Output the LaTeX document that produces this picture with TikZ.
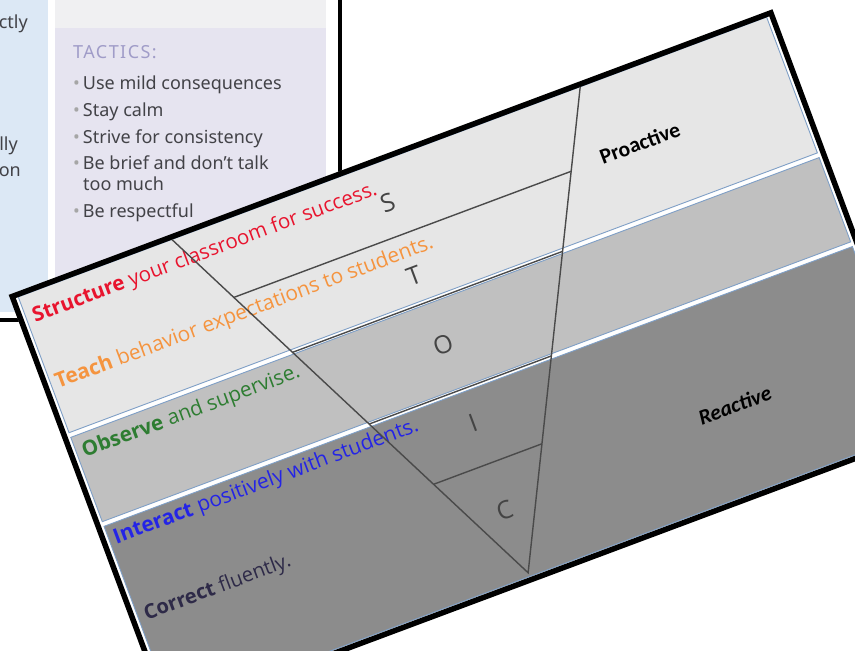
\documentclass[tikz,border=0pt]{standalone}
\usepackage{fontspec}
\setmainfont{Open Sans}
\newfontfamily\carlito{Carlito}
\newfontfamily\notos{Noto Sans}
\usetikzlibrary{calc}
\definecolor{panelblue}{HTML}{DCE8F5}
\definecolor{topgray}{HTML}{F0F0F2}
\definecolor{lavender}{HTML}{E6E4F0}
\definecolor{tacticscol}{HTML}{A09CC8}
\definecolor{bgtext}{HTML}{424247}
\definecolor{lettercol}{HTML}{444444}
\definecolor{rowA}{HTML}{E6E6E6}
\definecolor{rowB}{HTML}{C0C0C0}
\definecolor{rowC}{HTML}{8C8C8C}
\definecolor{rowline}{HTML}{7F9FC6}
\definecolor{triline}{HTML}{4A4A4A}
\definecolor{cred}{HTML}{E8142E}
\definecolor{corange}{HTML}{F5943F}
\definecolor{cgreen}{HTML}{2E7D32}
\definecolor{cblue}{HTML}{2424E6}
\definecolor{cdark}{HTML}{2E2A48}
\newcommand\fitto[2]{\resizebox{#1pt}{!}{#2}}
\tikzset{
  bgtxt/.style={font=\notos\fontsize{18}{18}\selectfont, text=bgtext, inner sep=0pt},
  rowbox/.style={draw=rowline, line width=0.9pt},
  rowtxt/.style={anchor=base west, inner sep=0pt, font=\fontsize{20}{20}\selectfont},
  letter/.style={inner sep=0pt, font=\fontsize{25}{25}\selectfont, text=lettercol},
  sidetxt/.style={anchor=base west, inner sep=0pt, font=\carlito\bfseries\fontsize{20}{20}\selectfont},
  triedge/.style={draw=triline, line width=1.4pt}
}
\begin{document}
\begin{tikzpicture}[x=1pt,y=-1pt]
\useasboundingbox (0,0) rectangle (855,651);
\fill[white] (0,0) rectangle (855,651);
% background screenshot
\fill[panelblue] (0,0) rectangle (48,312);
\fill[topgray] (55,0) rectangle (326,28);
\fill[lavender] (55,28) rectangle (326,314);
\draw[line width=3.5pt] (340,-3) -- (340,320) -- (-3,320);
\node[bgtxt, anchor=base east] (f1) at (28,28) {ctly};
\node[bgtxt, anchor=base east] (f2) at (18,150) {lly};
\node[bgtxt, anchor=base east] (f3) at (21,176) {on};
\node[anchor=base west, inner sep=0pt, text=tacticscol, font=\notos\fontsize{18}{18}\selectfont\addfontfeature{LetterSpace=8}] (tac) at (73,58) {TACTICS:};
\node[bgtxt, anchor=base west] (b1) at (73,89) {{\color{gray!70}\textbullet}\,Use mild consequences};
\node[bgtxt, anchor=base west] (b2) at (73,116) {{\color{gray!70}\textbullet}\,Stay calm};
\node[bgtxt, anchor=base west] (b3) at (73,143) {{\color{gray!70}\textbullet}\,Strive for consistency};
\node[bgtxt, anchor=base west] (b4) at (73,169) {{\color{gray!70}\textbullet}\,Be brief and don’t talk};
\node[bgtxt, anchor=base west] (b5) at (83,190) {too much};
\node[bgtxt, anchor=base west] (b6) at (73,217) {{\color{gray!70}\textbullet}\,Be respectful};
% the card
\begin{scope}[shift={(9,295)}, rotate=20.5, transform shape]
  \fill[white] (0,0) rectangle (815,452);
  \draw[rowbox, fill=rowA] (8,5) rectangle (807,150);
  \draw[rowbox, fill=rowB] (8,155) rectangle (807,245);
  \draw[rowbox, fill=rowC] (8,250) rectangle (807,446);
  \draw[line width=5.5pt] (2.5,2.5) rectangle (812.5,449.5);
  % texts
  \node[rowtxt, text=cred] (ts) at (15,35) {\fitto{366}{\textbf{Structure} your classroom for success.}};
  \node[rowtxt, text=corange] (tt) at (13,105) {\fitto{402}{\textbf{Teach} behavior expectations to students.}};
  \node[rowtxt, text=cgreen] (to) at (14,179) {\fitto{231}{\textbf{Observe} and supervise.}};
  \node[rowtxt, text=cblue] (ti) at (13,271) {\fitto{324}{\textbf{Interact} positively with students.}};
  \node[rowtxt, text=cdark] (tc) at (15,353) {\fitto{155}{\textbf{Correct} fluently.}};
  \node[sidetxt] (pro) at (602,86) {\fitto{84}{Proactive}};
  \node[sidetxt] (rea) at (603,365) {\fitto{76}{\itshape Reactive}};
  % triangle
  \coordinate (tl) at (172,5);
  \coordinate (tr) at (608,5);
  \coordinate (ap) at (389,442);
  \draw[triedge] (tl) -- (ap) -- (tr);
  \foreach \t/\n in {0.1739/a,0.3387/b,0.5538/c,0.7346/d}{
    \coordinate (l\n) at ($(tl)!\t!(ap)$);
    \coordinate (r\n) at ($(tr)!\t!(ap)$);
    \draw[triedge] (l\n) -- (r\n);
  }
  \node[letter] (S) at (387,46) {S};
  \node[letter] (T) at (386,124) {T};
  \node[letter] (O) at (389,199) {O};
  \node[letter] (I) at (390,282) {I};
  \node[letter] (C) at (389,375) {C};
\end{scope}
\end{tikzpicture}
\end{document}
